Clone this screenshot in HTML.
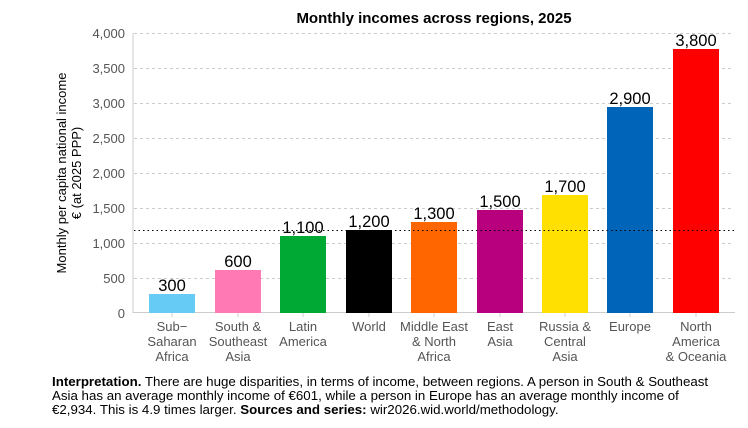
<!DOCTYPE html><html><head><style>body{margin:0;background:#fff;font-family:"Liberation Sans",Arial,sans-serif}</style></head><body>
<svg width="748" height="423" xmlns="http://www.w3.org/2000/svg" font-family="Liberation Sans, Arial, sans-serif">
<text x="434" y="23" font-size="15" font-weight="bold" text-anchor="middle">Monthly incomes across regions, 2025</text>
<g stroke="#ccc" stroke-dasharray="3,3" stroke-width="1">
<line x1="134" x2="734" y1="33.5" y2="33.5"/><line x1="134" x2="734" y1="68.5" y2="68.5"/><line x1="134" x2="734" y1="103.5" y2="103.5"/><line x1="134" x2="734" y1="138.5" y2="138.5"/><line x1="134" x2="734" y1="173.5" y2="173.5"/><line x1="134" x2="734" y1="208.5" y2="208.5"/><line x1="134" x2="734" y1="243.5" y2="243.5"/><line x1="134" x2="734" y1="278.5" y2="278.5"/>
</g>
<line x1="133" x2="133" y1="33" y2="313" stroke="#ccc"/>
<line x1="133" x2="735" y1="312.5" y2="312.5" stroke="#ccc"/>
<g font-size="13" fill="#555" text-anchor="end">
<text x="125" y="38">4,000</text><text x="125" y="73">3,500</text><text x="125" y="108">3,000</text><text x="125" y="143">2,500</text><text x="125" y="178">2,000</text><text x="125" y="213">1,500</text><text x="125" y="248">1,000</text><text x="125" y="283">500</text><text x="125" y="318">0</text>
</g>
<g font-size="13" fill="#000" text-anchor="middle" transform="translate(66,173) rotate(-90)">
<text x="0" y="0">Monthly per capita national income</text><text x="0" y="15">€ (at 2025 PPP)</text>
</g>
<rect x="149" y="294" width="46" height="19" fill="#66ccf5"/>
<rect x="215" y="270" width="46" height="43" fill="#ff7ab4"/>
<rect x="280" y="236" width="46" height="77" fill="#00a934"/>
<rect x="346" y="230" width="46" height="83" fill="#000"/>
<rect x="411" y="222" width="46" height="91" fill="#ff6600"/>
<rect x="477" y="210" width="46" height="103" fill="#b8007f"/>
<rect x="542" y="195" width="46" height="118" fill="#ffe000"/>
<rect x="607" y="107" width="46" height="206" fill="#0064b8"/>
<rect x="673" y="49" width="46" height="264" fill="#ff0000"/>
<line x1="134" x2="735" y1="230.5" y2="230.5" stroke="#000" stroke-dasharray="1.5,3"/>
<g font-size="16.5" fill="#000" text-anchor="middle">
<text x="172" y="291">300</text><text x="238" y="267">600</text><text x="303" y="233">1,100</text><text x="369" y="227">1,200</text><text x="434" y="219">1,300</text><text x="500" y="207">1,500</text><text x="565" y="192">1,700</text><text x="630" y="104">2,900</text><text x="696" y="46">3,800</text>
</g>
<g stroke="#ccc"><line x1="172" x2="172" y1="313" y2="317"/><line x1="238" x2="238" y1="313" y2="317"/><line x1="303" x2="303" y1="313" y2="317"/><line x1="369" x2="369" y1="313" y2="317"/><line x1="434" x2="434" y1="313" y2="317"/><line x1="500" x2="500" y1="313" y2="317"/><line x1="565" x2="565" y1="313" y2="317"/><line x1="630" x2="630" y1="313" y2="317"/><line x1="696" x2="696" y1="313" y2="317"/></g>
<g font-size="13" fill="#555" text-anchor="middle">
<text x="172" y="331">Sub−</text><text x="172" y="346">Saharan</text><text x="172" y="361">Africa</text>
<text x="238" y="331">South &amp;</text><text x="238" y="346">Southeast</text><text x="238" y="361">Asia</text>
<text x="303" y="331">Latin</text><text x="303" y="346">America</text>
<text x="369" y="331">World</text>
<text x="434" y="331">Middle East</text><text x="434" y="346">&amp; North</text><text x="434" y="361">Africa</text>
<text x="500" y="331">East</text><text x="500" y="346">Asia</text>
<text x="565" y="331">Russia &amp;</text><text x="565" y="346">Central</text><text x="565" y="361">Asia</text>
<text x="630" y="331">Europe</text>
<text x="696" y="331">North</text><text x="696" y="346">America</text><text x="696" y="361">&amp; Oceania</text>
</g>
<g font-size="13.3" fill="#000">
<text x="52" y="386"><tspan font-weight="bold">Interpretation.</tspan> There are huge disparities, in terms of income, between regions. A person in South &amp; Southeast</text>
<text x="52" y="400">Asia has an average monthly income of €601, while a person in Europe has an average monthly income of</text>
<text x="52" y="414">€2,934. This is 4.9 times larger. <tspan font-weight="bold">Sources and series:</tspan> wir2026.wid.world/methodology.</text>
</g>
</svg>
</body></html>
